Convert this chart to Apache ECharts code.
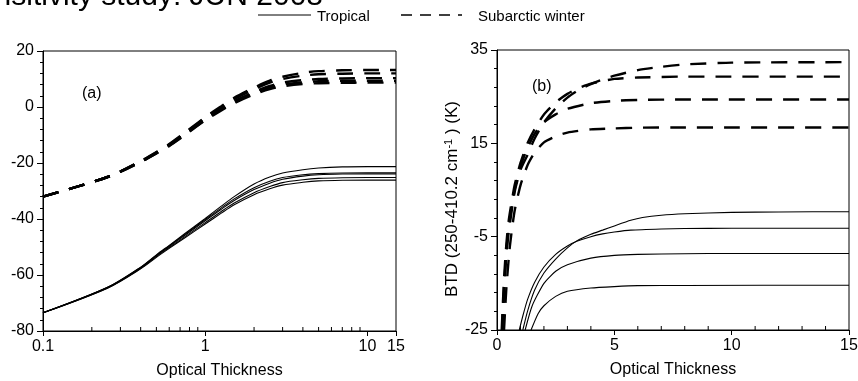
<!DOCTYPE html>
<html><head><meta charset="utf-8">
<script src="https://cdn.jsdelivr.net/npm/echarts@6/dist/echarts.min.js"></script>
<style>html,body{margin:0;padding:0;background:#fff}#c{width:858px;height:381px}</style>
</head><body><div id="c"></div>
<script>
// ---------- Panel (a): log optical thickness ----------
const tauA = [0.1, 0.25, 0.4, 0.5, 0.6, 0.75, 1, 1.25, 1.5, 2, 2.5, 3, 4, 5, 7, 10, 15];
const tropA1 = [-73.5, -64.4, -57.2, -52.8, -49.4, -45.2, -39.8, -35.5, -32.1, -27.5, -25.0, -23.6, -22.4, -21.8, -21.4, -21.3, -21.3];
const tropA2 = [-73.5, -64.4, -57.3, -53.0, -49.6, -45.5, -40.2, -36.1, -32.9, -28.8, -26.5, -25.2, -24.2, -23.8, -23.55, -23.5, -23.5];
const tropA3 = [-73.5, -64.5, -57.4, -53.1, -49.8, -45.8, -40.6, -36.6, -33.5, -29.5, -27.2, -25.8, -24.7, -24.2, -23.95, -23.9, -23.9];
const tropA4 = [-73.5, -64.6, -57.6, -53.4, -50.2, -46.3, -41.3, -37.4, -34.4, -30.6, -28.4, -27.0, -26.0, -25.5, -25.25, -25.2, -25.2];
const tropA5 = [-73.5, -64.7, -57.8, -53.7, -50.5, -46.7, -41.8, -38.0, -35.0, -31.3, -29.2, -27.9, -26.9, -26.4, -26.15, -26.1, -26.1];
const subA1 = [-32, -25, -19.3, -16.1, -13.2, -9.1, -3.6, 0.2, 3.2, 6.9, 9.4, 10.8, 12.2, 12.8, 13.1, 13.2, 13.2];
const subA2 = [-32, -25, -19.4, -16.2, -13.4, -9.3, -3.9, -0.2, 2.7, 6.3, 8.7, 10.0, 11.2, 11.7, 11.9, 12.0, 12.0];
const subA3 = [-32, -25, -19.5, -16.4, -13.6, -9.6, -4.3, -0.7, 2.0, 5.4, 7.5, 8.7, 9.6, 10.0, 10.2, 10.3, 10.3];
const subA4 = [-32, -25, -19.6, -16.5, -13.8, -9.8, -4.6, -1.0, 1.6, 4.9, 6.9, 8.0, 8.8, 9.2, 9.35, 9.4, 9.4];
const subA5 = [-32, -25, -19.7, -16.6, -13.9, -10.0, -4.8, -1.3, 1.3, 4.5, 6.4, 7.4, 8.2, 8.5, 8.65, 8.7, 8.7];
const minorTicksA = [0.2, 0.3, 0.4, 0.5, 0.6, 0.7, 0.8, 0.9, 2, 3, 4, 5, 6, 7, 8, 9];

// ---------- Panel (b): linear optical thickness ----------
const tauTropB1 = [1.1, 1.3, 1.6, 2, 2.5, 3, 3.4, 4, 4.5, 5, 5.7, 6.2, 7, 8, 10, 12, 15];
const tropB1 = [-25, -21, -16.5, -12.8, -9.8, -7.4, -5.9, -4.5, -3.6, -2.7, -1.5, -0.9, -0.4, -0.1, 0.2, 0.3, 0.35];
const tauTropB2 = [0.95, 1.1, 1.3, 1.6, 2, 2.5, 3, 3.4, 4, 4.5, 5, 5.7, 7, 8, 10, 15];
const tropB2 = [-25, -22, -18.5, -14.8, -11.5, -8.8, -7, -6, -5, -4.4, -4.0, -3.6, -3.35, -3.25, -3.2, -3.2];
const tauTropB3 = [1.2, 1.5, 2, 2.5, 3, 4, 5, 6, 8, 10, 15];
const tropB3 = [-25, -19.8, -15, -12.4, -11, -9.6, -9.0, -8.8, -8.65, -8.6, -8.6];
const tauTropB4 = [1.45, 1.75, 2, 2.5, 3, 4, 5, 6, 8, 15];
const tropB4 = [-25, -21.5, -19.8, -17.8, -16.7, -16, -15.7, -15.5, -15.45, -15.4];
const tauSubB1 = [0.22, 0.3, 0.4, 0.5, 0.75, 1, 1.3, 1.6, 2, 2.5, 3, 3.5, 4, 4.5, 5, 6, 7, 8, 10, 15];
const subB1 = [-25, -17, -9, -4, 4.5, 9.3, 12.5, 16, 19.5, 22.5, 24.8, 26.5, 27.7, 28.7, 29.5, 30.7, 31.4, 31.9, 32.3, 32.4];
const tauSubB2 = [0.2, 0.3, 0.4, 0.5, 0.75, 1, 1.3, 1.6, 2, 2.5, 3, 3.5, 4, 5, 6, 8, 15];
const subB2 = [-25, -14, -6.5, -1.5, 6, 10.8, 15, 18, 21.2, 23.8, 25.6, 26.9, 27.8, 28.8, 29.1, 29.3, 29.3];
const tauSubB3 = [0.22, 0.3, 0.4, 0.5, 0.75, 1, 1.3, 1.6, 2, 2.5, 3, 4, 5, 6, 8, 15];
const subB3 = [-25, -16, -8, -3, 5, 10, 14, 17, 19.5, 21.2, 22.4, 23.6, 24.1, 24.3, 24.4, 24.4];
const tauSubB4 = [0.3, 0.4, 0.55, 0.75, 1, 1.3, 1.6, 2, 2.5, 3, 4, 5, 6, 8, 15];
const subB4 = [-25, -16, -7, 0.5, 6, 10.3, 13, 15.2, 16.5, 17.3, 18, 18.2, 18.35, 18.4, 18.4];
const minorTicksB = [1, 2, 3, 4, 6, 7, 8, 9, 11, 12, 13, 14];

const xTicksA = [0.1, 1, 10, 15];
const yTicksA = [-80, -60, -40, -20, 0, 20];
const yTicksB = [-25, -5, 15, 35];
const xTicksB = [0, 5, 10, 15];

const FONT = "'Liberation Sans', Arial, sans-serif";
const pairs = (xs, ys) => xs.map((x, i) => [x, ys[i]]);

function mk(xs, ys, dashed, xi, yi, name, sm) {
  return {
    type: 'line', name: name, xAxisIndex: xi, yAxisIndex: yi,
    data: pairs(xs, ys), showSymbol: false, symbol: 'none', smooth: sm,
    silent: true, animation: false, z: dashed ? 3 : 2,
    lineStyle: dashed ? { color: '#000', width: 2.4, type: [16, 11] } : { color: '#000', width: 1.1 }
  };
}

// inside-pointing minor ticks on the x axes, placed through the axis scales
function minorTickSeries(ticks, yBase, xi, yi) {
  return {
    type: 'custom', xAxisIndex: xi, yAxisIndex: yi, silent: true, animation: false, z: 5,
    data: ticks.map(t => [t, yBase]),
    renderItem: (params, api) => {
      const p = api.coord([api.value(0), api.value(1)]);
      return { type: 'line', shape: { x1: p[0], y1: p[1], x2: p[0], y2: p[1] - 4 },
               style: { stroke: '#000', lineWidth: 1 } };
    }
  };
}

const series = [];
[tropA1, tropA2, tropA3, tropA4, tropA5].forEach(a => series.push(mk(tauA, a, false, 0, 0, 'Tropical', 0.3)));
[subA1, subA2, subA3, subA4, subA5].forEach(a => series.push(mk(tauA, a, true, 0, 0, 'Subarctic winter', 0.3)));
series.push(mk(tauTropB1, tropB1, false, 1, 1, 'Tropical', 0.2));
series.push(mk(tauTropB2, tropB2, false, 1, 1, 'Tropical', 0.2));
series.push(mk(tauTropB3, tropB3, false, 1, 1, 'Tropical', 0.2));
series.push(mk(tauTropB4, tropB4, false, 1, 1, 'Tropical', 0.2));
series.push(mk(tauSubB1, subB1, true, 1, 1, 'Subarctic winter', 0.2));
series.push(mk(tauSubB2, subB2, true, 1, 1, 'Subarctic winter', 0.2));
series.push(mk(tauSubB3, subB3, true, 1, 1, 'Subarctic winter', 0.2));
series.push(mk(tauSubB4, subB4, true, 1, 1, 'Subarctic winter', 0.2));
series.push(minorTickSeries(minorTicksA, yTicksA[0], 0, 0));
series.push(minorTickSeries(minorTicksB, yTicksB[0], 1, 1));

const black = { color: '#000', width: 1 };
const lbl = { color: '#000', fontSize: 16, fontFamily: FONT };

const option = {
  animation: false,
  backgroundColor: '#fff',
  grid: [
    { left: 43, top: 51, width: 353, height: 280, show: true, borderColor: '#000', borderWidth: 1,
      backgroundColor: 'transparent', containLabel: false, outerBoundsMode: 'none' },
    { left: 497, top: 50, width: 352, height: 280, show: true, borderColor: '#000', borderWidth: 1,
      backgroundColor: 'transparent', containLabel: false, outerBoundsMode: 'none' }
  ],
  xAxis: [
    { type: 'log', gridIndex: 0, position: 'bottom', logBase: 10, min: xTicksA[0], max: xTicksA[xTicksA.length - 1],
      axisLine: { onZero: false, lineStyle: black }, axisTick: { length: 5, lineStyle: black },
      axisLabel: Object.assign({ margin: 8, formatter: v => String(+(+v).toPrecision(6)) }, lbl),
      splitLine: { show: false }, minorTick: { show: false },
      name: 'Optical Thickness', nameLocation: 'middle', nameGap: 32, nameTextStyle: lbl },
    { type: 'value', gridIndex: 1, position: 'bottom', min: xTicksB[0], max: xTicksB[xTicksB.length - 1], interval: 5,
      axisLine: { onZero: false, lineStyle: black }, axisTick: { length: 5, lineStyle: black },
      axisLabel: Object.assign({ margin: 8 }, lbl), splitLine: { show: false },
      name: 'Optical Thickness', nameLocation: 'middle', nameGap: 32, nameTextStyle: lbl }
  ],
  yAxis: [
    { type: 'value', gridIndex: 0, position: 'left', min: yTicksA[0], max: yTicksA[yTicksA.length - 1], interval: 20,
      axisLine: { show: true, onZero: false, lineStyle: black }, axisTick: { show: true, length: 6, lineStyle: black },
      minorTick: { show: true, splitNumber: 5, length: 3, lineStyle: black },
      axisLabel: Object.assign({ margin: 9 }, lbl), splitLine: { show: false } },
    { type: 'value', gridIndex: 1, position: 'left', min: yTicksB[0], max: yTicksB[yTicksB.length - 1], interval: 20,
      axisLine: { show: true, onZero: false, lineStyle: black }, axisTick: { show: true, length: 6, lineStyle: black },
      minorTick: { show: true, splitNumber: 5, length: 3, lineStyle: black },
      axisLabel: Object.assign({ margin: 9 }, lbl), splitLine: { show: false },
      name: 'BTD (250-410.2 cm{sup|-1} ) (K)', nameLocation: 'middle', nameGap: 32, nameRotate: 90,
      nameTextStyle: { color: '#000', fontSize: 17, fontFamily: FONT, padding: [0, 18, 0, 0],
        rich: { sup: { fontSize: 11, fontFamily: FONT, color: '#000', padding: [0, 0, 8, 0] } } } }
  ],
  graphic: [
    { type: 'text', x: 323, y: 12, silent: true,
      style: { text: 'Sensitivity study: JUN 2008', font: '30px ' + FONT, fill: '#000', textAlign: 'right', textVerticalAlign: 'bottom' } },
    { type: 'line', silent: true, shape: { x1: 258, y1: 15, x2: 311, y2: 15 }, style: { stroke: '#000', lineWidth: 1 } },
    { type: 'text', x: 317, y: 17, silent: true,
      style: { text: 'Tropical', font: '15px ' + FONT, fill: '#000', textVerticalAlign: 'middle' } },
    { type: 'line', silent: true, shape: { x1: 401, y1: 15, x2: 462, y2: 15 }, style: { stroke: '#000', lineWidth: 1.3, lineDash: [11, 8] } },
    { type: 'text', x: 478, y: 17, silent: true,
      style: { text: 'Subarctic winter', font: '15px ' + FONT, fill: '#000', textVerticalAlign: 'middle' } },
    { type: 'text', x: 82, y: 94, silent: true,
      style: { text: '(a)', font: '16px ' + FONT, fill: '#000', textVerticalAlign: 'middle' } },
    { type: 'text', x: 532, y: 87, silent: true,
      style: { text: '(b)', font: '16px ' + FONT, fill: '#000', textVerticalAlign: 'middle' } }
  ],
  series: series
};
const chart = echarts.init(document.getElementById('c'), null, { renderer: 'canvas' });
chart.setOption(option);
</script>
</body></html>
